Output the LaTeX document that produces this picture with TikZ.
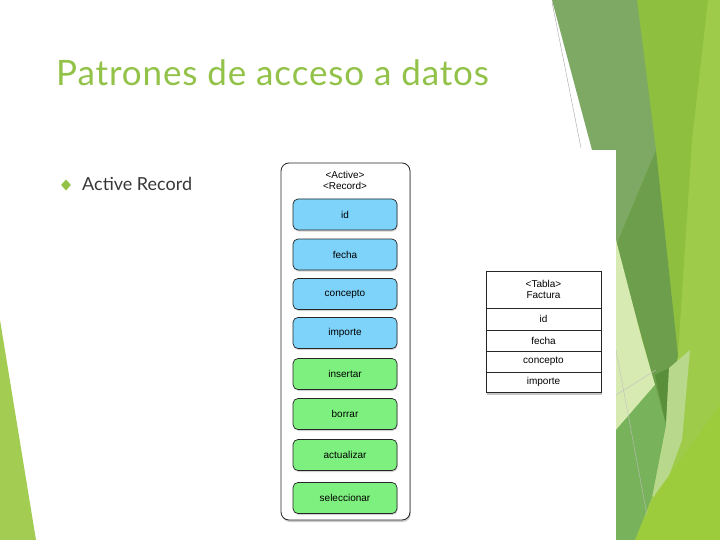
\documentclass[tikz,border=0pt]{standalone}
\usepackage{fontspec}
\setmainfont{Lato}
\newfontfamily\titlefont{Lato}[LetterSpace=2.5]
\newfontfamily\itemfont{Lato}
\newfontfamily\diagfont{Liberation Sans}
\usetikzlibrary{shadows,shapes.geometric}
\definecolor{titlegreen}{RGB}{146,194,72}
\definecolor{bodygray}{RGB}{56,56,56}
\definecolor{bgL}{RGB}{159,203,74}
\definecolor{bgB}{RGB}{143,191,62}
\definecolor{bgM}{RGB}{125,169,101}
\definecolor{bgD}{RGB}{108,158,75}
\definecolor{bgDD}{RGB}{90,143,58}
\definecolor{bgP}{RGB}{215,234,178}
\definecolor{bgP2}{RGB}{184,216,140}
\definecolor{bgG}{RGB}{120,178,90}
\definecolor{bgY}{RGB}{156,204,60}
\definecolor{leftgreen}{RGB}{163,204,82}
\definecolor{attrblue}{RGB}{125,211,250}
\definecolor{methgreen}{RGB}{126,240,127}
\tikzset{
  field/.style={draw=black!85, line width=0.7pt, rounded corners=5pt,
    minimum width=104pt, minimum height=31pt,
    font=\diagfont\fontsize{10}{12}\selectfont,
    drop shadow={opacity=0.35, shadow xshift=0.6pt, shadow yshift=-1.5pt}},
  attr/.style={field, fill=attrblue},
  meth/.style={field, fill=methgreen},
  cell/.style={draw=black!85, line width=0.7pt, fill=white,
    minimum width=115pt, inner sep=0pt, align=center,
    font=\diagfont\fontsize{10}{11}\selectfont},
}
\begin{document}
\begin{tikzpicture}[x=1pt,y=-1pt]
\useasboundingbox (0,0) rectangle (720,540);
\fill[white] (0,0) rectangle (720,540);
% right decoration
\fill[bgL] (620,0) -- (720,0) -- (720,540) -- (616,540) -- cycle;
\fill[bgB] (636,0) -- (708,0) -- (692,140) -- (678,355) -- (656,150) -- cycle;
\fill[bgM] (552,0) -- (637,0) -- (656,150) -- (616,245) -- (600,245) -- (592,150) -- cycle;
\fill[bgD] (656,150) -- (678,355) -- (666,428) -- (655,385) -- (616,245) -- cycle;
\fill[bgP] (616,240) -- (642,340) -- (655,385) -- (616,430) -- cycle;
\fill[bgDD] (655,375) -- (669,368) -- (666,425) -- cycle;
\fill[bgP2] (669,368) -- (690,350) -- (682,440) -- (660,500) -- (652,496) -- (666,425) -- cycle;
\fill[bgG] (616,430) -- (655,385) -- (666,425) -- (652,497) -- (635,540) -- (616,540) -- cycle;
\fill[bgY] (720,405) -- (720,540) -- (635,540) -- (655,495) -- cycle;
\draw[black!35, line width=0.4pt] (552,2) -- (581,148);
\draw[black!25, line width=0.4pt] (616,395) -- (656,370);
\draw[black!25, line width=0.4pt] (616,350) -- (647,515);
% left decoration
\fill[leftgreen] (0,320) -- (0,540) -- (36,540) -- cycle;
% image background
\fill[white] (270,150) rectangle (616,540);
% title and bullet
\node[anchor=base west, inner sep=0pt, text=titlegreen, font=\titlefont\fontsize{35}{40}\selectfont] (title) at (56,86) {Patrones de acceso a datos};
\node[diamond, fill=titlegreen, inner sep=0pt, minimum width=10pt, minimum height=11pt] (bul) at (66,185) {};
\node[anchor=base west, inner sep=0pt, text=bodygray, font=\itemfont\fontsize{18}{21}\selectfont] (item) at (82,191) {Active Record};
% active record box
\node[draw=black!85, line width=0.8pt, rounded corners=8pt, fill=white,
  minimum width=129pt, minimum height=357pt,
  drop shadow={opacity=0.4, shadow xshift=0.8pt, shadow yshift=-2pt}] (ar) at (345.5,341.5) {};
\node[align=center, font=\diagfont\fontsize{10}{11}\selectfont, inner sep=0pt] (arhead) at (345,180.5) {<Active>\\<Record>};
\node[attr] (id) at (345,214.5) {id};
\node[attr] (fecha) at (345,254.5) {fecha};
\node[attr] (concepto) at (345,294) {concepto};
\node[attr] (importe) at (345,333) {importe};
\node[meth] (insertar) at (345,374) {insertar};
\node[meth] (borrar) at (345,414) {borrar};
\node[meth] (actualizar) at (345,455) {actualizar};
\node[meth] (seleccionar) at (345,498) {seleccionar};
% table
\node[fill=white, minimum width=115pt, minimum height=121pt, inner sep=0pt,
  drop shadow={opacity=0.45, shadow xshift=0.8pt, shadow yshift=-2.5pt}] (tabbg) at (543.5,331.5) {};
\node[cell, minimum height=37pt] (thead) at (543.5,289.5) {<Tabla>\\Factura};
\node[cell, minimum height=22pt] (tid) at (543.5,319) {id};
\node[cell, minimum height=21pt] (tfecha) at (543.5,340.5) {fecha};
\node[cell, minimum height=21pt] (tconcepto) at (543.5,361.5) {concepto};
\node[cell, minimum height=20pt] (timporte) at (543.5,382) {importe};
\end{tikzpicture}
\end{document}
